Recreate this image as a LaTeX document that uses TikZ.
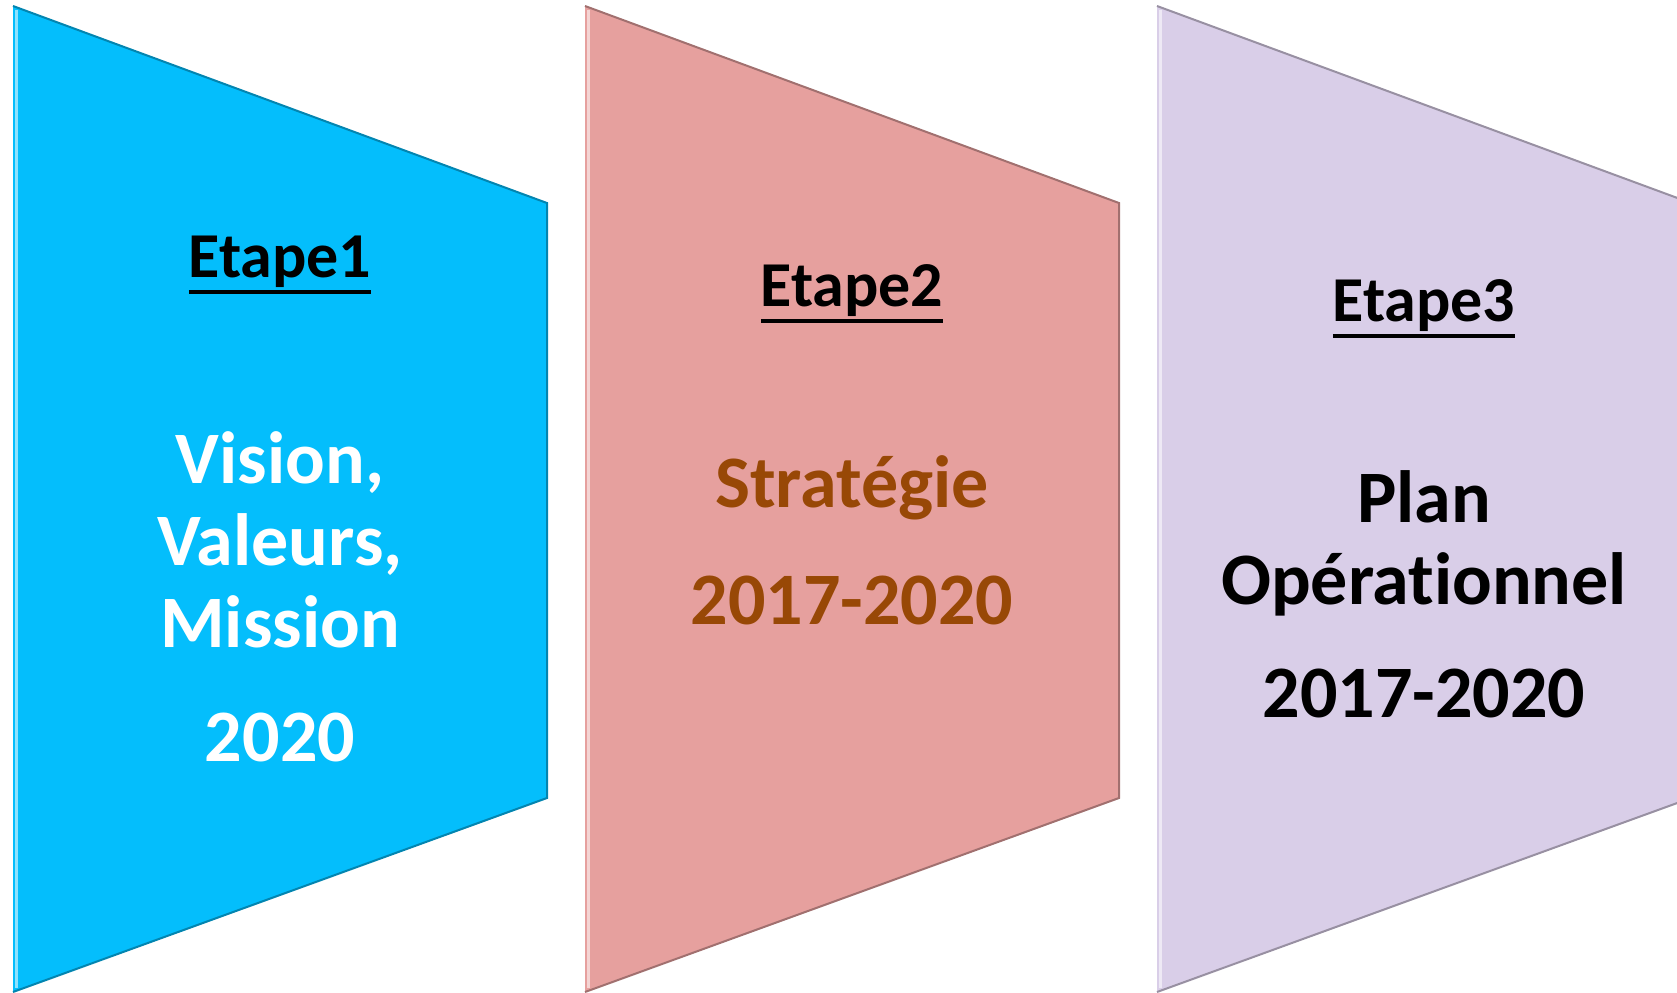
\documentclass[tikz,border=0pt]{standalone}
\usepackage{fontspec}
\setmainfont{Carlito}[Ligatures=NoCommon]
\usetikzlibrary{positioning}
\definecolor{stageblue}{RGB}{4,190,252}
\definecolor{stagepink}{RGB}{230,160,158}
\definecolor{stagelilac}{RGB}{217,206,232}
\definecolor{stagebrown}{RGB}{152,72,6}
\newcommand{\etapeline}[1]{\setbox0=\hbox{#1}\rlap{\raisebox{-8.5pt}{\rule{\wd0}{2pt}}}\box0}

\begin{document}
\begin{tikzpicture}[x=0.5pt, y=-0.5pt,
  etape/.style={anchor=base, font=\bfseries\fontsize{32}{38}\selectfont},
  body/.style={anchor=base, align=center, font=\bfseries\fontsize{37}{41}\selectfont}]
  \useasboundingbox (0,0) rectangle (1677,992);
  \clip (0,0) rectangle (1677,992);

  \foreach \i/\col in {0/stageblue, 1/stagepink, 2/stagelilac} {
    \begin{scope}[xshift=\i*286pt]
      \fill[\col] (13,6) -- (547,203) -- (547,798) -- (13,992) -- cycle;
      \draw[\col!70!black, line width=1pt] (13,6) -- (547,203) -- (547,798) -- (13,992);
      \draw[white!55!\col, line width=1.5pt] (16,10) -- (16,988);
    \end{scope}
  }

  \node[etape] (etape1) at (280,277) {\etapeline{Etape1}};
  \node[etape] (etape2) at (852,306) {\etapeline{Etape2}};
  \node[etape] (etape3) at (1424,321) {\etapeline{Etape3}};

  % base anchor sits on the last line
  \node[body, text=white] (vision) at (280,761) {Vision,\\Valeurs,\\Mission\\[16pt]2020};
  \node[body, text=stagebrown] (strategie) at (852,624) {Stratégie\\[17.5pt]2017-2020};
  \node[body] (plan) at (1424,717) {Plan\\Opérationnel\\[15.5pt]2017-2020};
\end{tikzpicture}
\end{document}
